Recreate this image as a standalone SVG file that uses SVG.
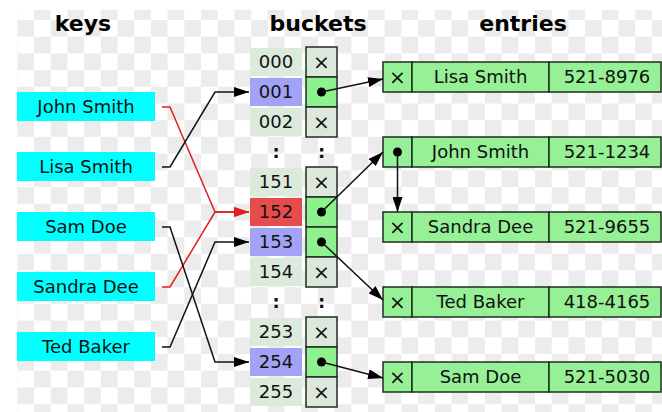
<svg xmlns="http://www.w3.org/2000/svg" width="662" height="412" viewBox="0 0 662 412">
<style>
text{font-family:"DejaVu Sans","Liberation Sans",sans-serif;font-size:18px;fill:#111;text-anchor:middle}
.title{font-size:22px;font-weight:bold;fill:#000}
.x{font-size:20px}
.key{fill:#00ffff}
.num{fill:#dbeadb}
.blue{fill:#a3a3f5}
.red{fill:#e74c4c}
.cell{stroke:#1c2e1c;stroke-width:1.5}
.nil{fill:#dde8dd}
.ptr{fill:#8ef08e}
.entry{fill:#96f096;stroke:#1c2e1c;stroke-width:1.5}
.dot{fill:#000}
.conn{fill:none;stroke:#111;stroke-width:1.5}
.connr{fill:none;stroke:#e01f1f;stroke-width:1.5}
.colon{font-weight:bold}
</style>
<defs>
<pattern id="chk" x="0.6" y="3.3" width="33.4" height="33.4" patternUnits="userSpaceOnUse">
<rect width="33.4" height="33.4" fill="#fff"/>
<rect width="16.7" height="16.7" fill="#ececec"/>
<rect x="16.7" y="16.7" width="16.7" height="16.7" fill="#ececec"/>
</pattern>
<marker id="ah" markerUnits="userSpaceOnUse" markerWidth="16" markerHeight="10" refX="15" refY="5" orient="auto">
<path d="M0,0 L15,5 L0,10 z" fill="#000"/>
</marker>
<marker id="ahr" markerUnits="userSpaceOnUse" markerWidth="16" markerHeight="10" refX="15" refY="5" orient="auto">
<path d="M0,0 L15,5 L0,10 z" fill="#e01f1f"/>
</marker>
</defs>
<rect width="662" height="412" fill="#fff"/>
<rect x="17" y="10" width="645" height="402" fill="url(#chk)"/>

<text class="title" x="83" y="31">keys</text>
<text class="title" x="318" y="31">buckets</text>
<text class="title" x="523" y="31">entries</text>

<g id="key-john"><rect class="key" x="17" y="92" width="138" height="29"/><text x="86" y="113">John Smith</text></g>
<g id="key-lisa"><rect class="key" x="17" y="152" width="138" height="29"/><text x="86" y="173">Lisa Smith</text></g>
<g id="key-sam"><rect class="key" x="17" y="212" width="138" height="29"/><text x="86" y="233">Sam Doe</text></g>
<g id="key-sandra"><rect class="key" x="17" y="272" width="138" height="29"/><text x="86" y="293">Sandra Dee</text></g>
<g id="key-ted"><rect class="key" x="17" y="332" width="138" height="29"/><text x="86" y="353">Ted Baker</text></g>

<g id="bucket-000"><rect class="num" x="250" y="48" width="52" height="28"/><text x="276" y="68">000</text><rect class="cell nil" x="306" y="47" width="31" height="30"/><text class="x" x="321.5" y="69">×</text></g>
<g id="bucket-001"><rect class="blue" x="250" y="78" width="52" height="28"/><text x="276" y="98">001</text><rect class="cell ptr" x="306" y="77" width="31" height="30"/><circle class="dot" cx="321.5" cy="92" r="4.5"/></g>
<g id="bucket-002"><rect class="num" x="250" y="108" width="52" height="28"/><text x="276" y="128">002</text><rect class="cell nil" x="306" y="107" width="31" height="30"/><text class="x" x="321.5" y="129">×</text></g>
<g id="bucket-dots1"><text class="colon" x="276" y="158">:</text><text class="colon" x="321.5" y="158">:</text></g>
<g id="bucket-151"><rect class="num" x="250" y="168" width="52" height="28"/><text x="276" y="188">151</text><rect class="cell nil" x="306" y="167" width="31" height="30"/><text class="x" x="321.5" y="189">×</text></g>
<g id="bucket-152"><rect class="red" x="250" y="198" width="52" height="28"/><text x="276" y="218">152</text><rect class="cell ptr" x="306" y="197" width="31" height="30"/><circle class="dot" cx="321.5" cy="212" r="4.5"/></g>
<g id="bucket-153"><rect class="blue" x="250" y="228" width="52" height="28"/><text x="276" y="248">153</text><rect class="cell ptr" x="306" y="227" width="31" height="30"/><circle class="dot" cx="321.5" cy="242" r="4.5"/></g>
<g id="bucket-154"><rect class="num" x="250" y="258" width="52" height="28"/><text x="276" y="278">154</text><rect class="cell nil" x="306" y="257" width="31" height="30"/><text class="x" x="321.5" y="279">×</text></g>
<g id="bucket-dots2"><text class="colon" x="276" y="308">:</text><text class="colon" x="321.5" y="308">:</text></g>
<g id="bucket-253"><rect class="num" x="250" y="318" width="52" height="28"/><text x="276" y="338">253</text><rect class="cell nil" x="306" y="317" width="31" height="30"/><text class="x" x="321.5" y="339">×</text></g>
<g id="bucket-254"><rect class="blue" x="250" y="348" width="52" height="28"/><text x="276" y="368">254</text><rect class="cell ptr" x="306" y="347" width="31" height="30"/><circle class="dot" cx="321.5" cy="362" r="4.5"/></g>
<g id="bucket-255"><rect class="num" x="250" y="378" width="52" height="28"/><text x="276" y="398">255</text><rect class="cell nil" x="306" y="377" width="31" height="30"/><text class="x" x="321.5" y="399">×</text></g>

<g id="entry-lisa"><rect class="entry" x="383" y="62" width="29" height="30"/><rect class="entry" x="412" y="62" width="137" height="30"/><rect class="entry" x="549" y="62" width="112" height="30"/><text class="x" x="397.5" y="84">×</text><text x="480.5" y="83">Lisa Smith</text><text x="607" y="83">521-8976</text></g>
<g id="entry-john"><rect class="entry" x="383" y="137" width="29" height="30"/><rect class="entry" x="412" y="137" width="137" height="30"/><rect class="entry" x="549" y="137" width="112" height="30"/><circle class="dot" cx="397.5" cy="152" r="4.5"/><text x="480.5" y="158">John Smith</text><text x="607" y="158">521-1234</text></g>
<g id="entry-sandra"><rect class="entry" x="383" y="212" width="29" height="30"/><rect class="entry" x="412" y="212" width="137" height="30"/><rect class="entry" x="549" y="212" width="112" height="30"/><text class="x" x="397.5" y="234">×</text><text x="480.5" y="233">Sandra Dee</text><text x="607" y="233">521-9655</text></g>
<g id="entry-ted"><rect class="entry" x="383" y="287" width="29" height="30"/><rect class="entry" x="412" y="287" width="137" height="30"/><rect class="entry" x="549" y="287" width="112" height="30"/><text class="x" x="397.5" y="309">×</text><text x="480.5" y="308">Ted Baker</text><text x="607" y="308">418-4165</text></g>
<g id="entry-sam"><rect class="entry" x="383" y="362" width="29" height="30"/><rect class="entry" x="412" y="362" width="137" height="30"/><rect class="entry" x="549" y="362" width="112" height="30"/><text class="x" x="397.5" y="384">×</text><text x="480.5" y="383">Sam Doe</text><text x="607" y="383">521-5030</text></g>

<g id="connectors">
<polyline class="connr" points="162,107 170,107 215,212 249,212" marker-end="url(#ahr)"/>
<polyline class="connr" points="162,287 170,287 215,212 249,212" marker-end="url(#ahr)"/>
<polyline class="conn" points="162,167 170,167 215,92 249,92" marker-end="url(#ah)"/>
<polyline class="conn" points="162,227 170,227 215,362 249,362" marker-end="url(#ah)"/>
<polyline class="conn" points="162,347 170,347 215,242 249,242" marker-end="url(#ah)"/>
<line class="conn" x1="321.5" y1="92" x2="383" y2="79" marker-end="url(#ah)"/>
<line class="conn" x1="321.5" y1="212" x2="383" y2="152" marker-end="url(#ah)"/>
<line class="conn" x1="321.5" y1="242" x2="383" y2="300" marker-end="url(#ah)"/>
<line class="conn" x1="321.5" y1="362" x2="383" y2="378" marker-end="url(#ah)"/>
<line class="conn" x1="397.5" y1="152" x2="397.5" y2="212" marker-end="url(#ah)"/>
</g>
</svg>
